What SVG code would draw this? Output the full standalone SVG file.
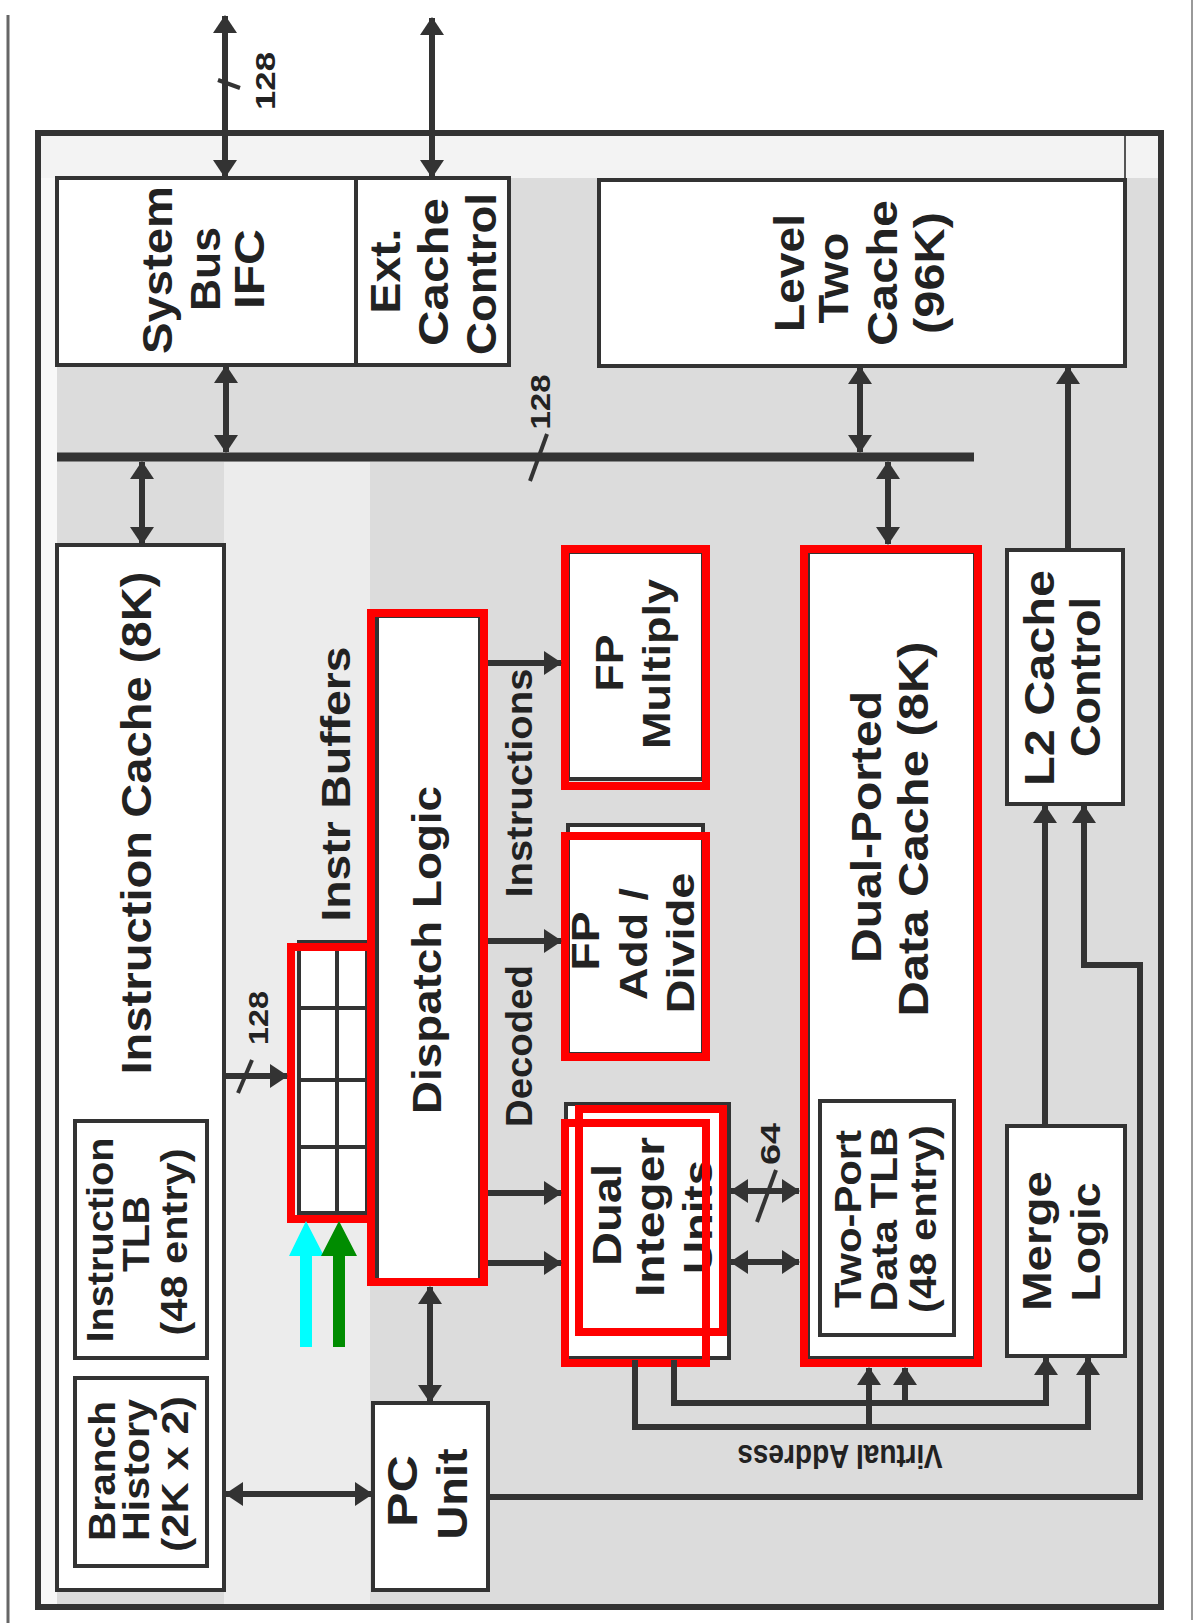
<svg xmlns="http://www.w3.org/2000/svg" width="1197" height="1623" viewBox="0 0 1197 1623">
<style>
.t{font-family:"Liberation Sans",Arial,sans-serif;font-weight:bold;fill:#222;text-anchor:middle}
.b{fill:#fff;stroke:#333;stroke-width:4}
.r{fill:none;stroke:#ff0000;stroke-width:8}
.w{fill:none;stroke:#333;stroke-width:6}
.s{fill:none;stroke:#333;stroke-width:4}
</style>
<defs>
<marker id="ah" viewBox="0 0 18 24" refX="17" refY="12" markerWidth="18" markerHeight="24" markerUnits="userSpaceOnUse" orient="auto-start-reverse" preserveAspectRatio="none"><path d="M0,0 L18,12 L0,24 z" fill="#333"/></marker>
</defs>
<rect width="1197" height="1623" fill="#fff"/>
<line x1="8" y1="15" x2="8" y2="1623" stroke="#666" stroke-width="3"/>
<line x1="1192" y1="0" x2="1192" y2="1620" stroke="#999" stroke-width="2"/>
<g id="frame">
<rect x="38" y="133" width="1123" height="1474" fill="#dcdcdc" stroke="#333" stroke-width="6"/>
<rect x="41" y="136" width="1117" height="42" fill="#f3f3f3"/>
<rect x="41" y="178" width="16" height="1426" fill="#f8f8f8"/>
<rect x="224" y="462" width="146" height="1142" fill="#ececec"/>
<line x1="1125" y1="136" x2="1125" y2="180" stroke="#555" stroke-width="2"/>
</g>
<g id="sysbus"><rect class="b" x="57" y="178" width="452" height="187"/>
<line x1="356" y1="178" x2="356" y2="365" stroke="#333" stroke-width="4"/>
<text class="t" font-size="43" textLength="168" lengthAdjust="spacingAndGlyphs" transform="translate(172,270) rotate(-90)">System</text>
<text class="t" font-size="43" textLength="84" lengthAdjust="spacingAndGlyphs" transform="translate(220,269) rotate(-90)">Bus</text>
<text class="t" font-size="43" textLength="80" lengthAdjust="spacingAndGlyphs" transform="translate(264,269) rotate(-90)">IFC</text>
</g>
<g id="extcache">
<text class="t" font-size="43" textLength="85" lengthAdjust="spacingAndGlyphs" transform="translate(400,271) rotate(-90)">Ext.</text>
<text class="t" font-size="43" textLength="148" lengthAdjust="spacingAndGlyphs" transform="translate(448,272) rotate(-90)">Cache</text>
<text class="t" font-size="43" textLength="162" lengthAdjust="spacingAndGlyphs" transform="translate(496,274) rotate(-90)">Control</text>
</g>
<g id="l2cache"><rect class="b" x="599" y="180" width="526" height="186"/>
<text class="t" font-size="43" textLength="118" lengthAdjust="spacingAndGlyphs" transform="translate(804,273) rotate(-90)">Level</text>
<text class="t" font-size="43" textLength="91" lengthAdjust="spacingAndGlyphs" transform="translate(848,278) rotate(-90)">Two</text>
<text class="t" font-size="43" textLength="146" lengthAdjust="spacingAndGlyphs" transform="translate(897,273) rotate(-90)">Cache</text>
<text class="t" font-size="43" textLength="122" lengthAdjust="spacingAndGlyphs" transform="translate(944,273) rotate(-90)">(96K)</text>
</g>
<g id="icache"><rect class="b" x="57" y="545" width="167" height="1045"/>
<text class="t" font-size="43" textLength="503" lengthAdjust="spacingAndGlyphs" transform="translate(151,823) rotate(-90)">Instruction Cache (8K)</text>
</g>
<g id="itlb"><rect class="b" x="75" y="1121" width="132" height="237"/>
<text class="t" font-size="37" textLength="205" lengthAdjust="spacingAndGlyphs" transform="translate(113,1240) rotate(-90)">Instruction</text>
<text class="t" font-size="37" textLength="76" lengthAdjust="spacingAndGlyphs" transform="translate(149,1234) rotate(-90)">TLB</text>
<text class="t" font-size="37" textLength="187" lengthAdjust="spacingAndGlyphs" transform="translate(187,1242) rotate(-90)">(48 entry)</text>
</g>
<g id="branch"><rect class="b" x="75" y="1378" width="132" height="188"/>
<text class="t" font-size="37" textLength="140" lengthAdjust="spacingAndGlyphs" transform="translate(115,1471) rotate(-90)">Branch</text>
<text class="t" font-size="37" textLength="142" lengthAdjust="spacingAndGlyphs" transform="translate(149,1470) rotate(-90)">History</text>
<text class="t" font-size="37" textLength="156" lengthAdjust="spacingAndGlyphs" transform="translate(188,1474) rotate(-90)">(2K x 2)</text>
</g>
<g id="buffers">
<rect class="b" x="299" y="942" width="68" height="271"/>
<path class="s" d="M337,942 V1213 M299,1008 H367 M299,1080 H367 M299,1147 H367" stroke-width="3"/>
<text class="t" font-size="40" textLength="275" lengthAdjust="spacingAndGlyphs" transform="translate(350,784) rotate(-90)">Instr Buffers</text>
<rect class="r" x="291" y="947" width="80" height="272"/>
</g>
<g id="dispatch"><rect class="b" x="377" y="616" width="103" height="664"/>
<text class="t" font-size="40" textLength="328" lengthAdjust="spacingAndGlyphs" transform="translate(441,950) rotate(-90)">Dispatch Logic</text>
<rect class="r" x="371" y="613" width="113" height="669"/>
</g>
<g id="decoded">
<text class="t" font-size="36" textLength="162" lengthAdjust="spacingAndGlyphs" transform="translate(532,1046) rotate(-90)">Decoded</text>
<text class="t" font-size="36" textLength="229" lengthAdjust="spacingAndGlyphs" transform="translate(532,783) rotate(-90)">Instructions</text>
</g>
<g id="fpmul"><rect class="b" x="568" y="552" width="135" height="227"/>
<text class="t" font-size="39" textLength="57" lengthAdjust="spacingAndGlyphs" transform="translate(623,663) rotate(-90)">FP</text>
<text class="t" font-size="39" textLength="170" lengthAdjust="spacingAndGlyphs" transform="translate(670,664) rotate(-90)">Multiply</text>
<rect class="r" x="565" y="549" width="141" height="237"/>
</g>
<g id="fpadd"><rect class="b" x="568" y="825" width="135" height="229"/>
<text class="t" font-size="39" textLength="59" lengthAdjust="spacingAndGlyphs" transform="translate(599,941) rotate(-90)">FP</text>
<text class="t" font-size="39" textLength="112" lengthAdjust="spacingAndGlyphs" transform="translate(647,944) rotate(-90)">Add /</text>
<text class="t" font-size="39" textLength="141" lengthAdjust="spacingAndGlyphs" transform="translate(694,943) rotate(-90)">Divide</text>
<rect class="r" x="565" y="836" width="141" height="221"/>
</g>
<g id="dualint"><rect class="b" x="566" y="1104" width="163" height="254"/>
<text class="t" font-size="40" textLength="102" lengthAdjust="spacingAndGlyphs" transform="translate(621,1215) rotate(-90)">Dual</text>
<text class="t" font-size="40" textLength="160" lengthAdjust="spacingAndGlyphs" transform="translate(664,1217) rotate(-90)">Integer</text>
<text class="t" font-size="40" textLength="114" lengthAdjust="spacingAndGlyphs" transform="translate(712,1217) rotate(-90)">Units</text>
<rect class="r" x="565" y="1123" width="141" height="240"/>
<rect class="r" x="579" y="1109" width="144" height="223"/>
</g>
<g id="dcache"><rect class="b" x="808" y="552" width="167" height="806"/>
<text class="t" font-size="42" textLength="272" lengthAdjust="spacingAndGlyphs" transform="translate(881,827) rotate(-90)">Dual-Ported</text>
<text class="t" font-size="42" textLength="375" lengthAdjust="spacingAndGlyphs" transform="translate(928,829) rotate(-90)">Data Cache (8K)</text>
</g>
<g id="dtlb"><rect class="b" x="820" y="1101" width="134" height="234"/>
<text class="t" font-size="37" textLength="178" lengthAdjust="spacingAndGlyphs" transform="translate(861,1219) rotate(-90)">Two-Port</text>
<text class="t" font-size="37" textLength="185" lengthAdjust="spacingAndGlyphs" transform="translate(897,1219) rotate(-90)">Data TLB</text>
<text class="t" font-size="37" textLength="188" lengthAdjust="spacingAndGlyphs" transform="translate(936,1219) rotate(-90)">(48 entry)</text>
<rect class="r" x="804" y="549" width="174" height="814"/>
</g>
<g id="l2ctrl"><rect class="b" x="1007" y="550" width="116" height="254"/>
<text class="t" font-size="42" textLength="216" lengthAdjust="spacingAndGlyphs" transform="translate(1054,678) rotate(-90)">L2 Cache</text>
<text class="t" font-size="42" textLength="160" lengthAdjust="spacingAndGlyphs" transform="translate(1100,677) rotate(-90)">Control</text>
</g>
<g id="merge"><rect class="b" x="1007" y="1126" width="118" height="230"/>
<text class="t" font-size="40" textLength="140" lengthAdjust="spacingAndGlyphs" transform="translate(1051,1241) rotate(-90)">Merge</text>
<text class="t" font-size="40" textLength="119" lengthAdjust="spacingAndGlyphs" transform="translate(1100,1242) rotate(-90)">Logic</text>
</g>
<g id="pcunit"><rect class="b" x="373" y="1403" width="115" height="187"/>
<text class="t" font-size="43" textLength="72" lengthAdjust="spacingAndGlyphs" transform="translate(417,1491) rotate(-90)">PC</text>
<text class="t" font-size="43" textLength="91" lengthAdjust="spacingAndGlyphs" transform="translate(467,1494) rotate(-90)">Unit</text>
</g>
<g id="connectors">
<line x1="57" y1="457" x2="974" y2="457" stroke="#333" stroke-width="9"/>
<path class="w" d="M225,16 V177" marker-start="url(#ah)" marker-end="url(#ah)"/>
<path class="w" d="M432,18 V177" marker-start="url(#ah)" marker-end="url(#ah)"/>
<path class="w" d="M226,366 V452" marker-start="url(#ah)" marker-end="url(#ah)"/>
<path class="w" d="M142,462 V544" marker-start="url(#ah)" marker-end="url(#ah)"/>
<path class="w" d="M860,367 V452" marker-start="url(#ah)" marker-end="url(#ah)"/>
<path class="w" d="M888,462 V544" marker-start="url(#ah)" marker-end="url(#ah)"/>
<path class="w" d="M1068,549 V367" marker-end="url(#ah)"/>
<path class="w" d="M224,1076 H287" marker-end="url(#ah)"/>
<path class="w" d="M488,663 H561" marker-end="url(#ah)"/>
<path class="w" d="M488,941 H561" marker-end="url(#ah)"/>
<path class="w" d="M488,1193 H561" marker-end="url(#ah)"/>
<path class="w" d="M488,1263 H561" marker-end="url(#ah)"/>
<path class="w" d="M430,1287 V1402" marker-start="url(#ah)" marker-end="url(#ah)"/>
<path class="w" d="M226,1494 H372" marker-start="url(#ah)" marker-end="url(#ah)"/>
<path class="w" d="M731,1191 H799" marker-start="url(#ah)" marker-end="url(#ah)"/>
<path class="w" d="M731,1262 H799" marker-start="url(#ah)" marker-end="url(#ah)"/>
<path class="w" d="M635,1360 V1427 H1088 V1358" marker-end="url(#ah)"/>
<path class="w" d="M674,1360 V1403 H1046 V1358" marker-end="url(#ah)"/>
<path class="w" d="M869,1427 V1368" marker-end="url(#ah)"/>
<path class="w" d="M905,1403 V1368" marker-end="url(#ah)"/>
<path class="w" d="M1045,1126 V806" marker-end="url(#ah)"/>
<path class="w" d="M488,1497 H1140 V965 H1084 V806" marker-end="url(#ah)"/>
<path class="s" d="M218,80 L240,88" stroke-width="3"/>
<path class="s" d="M530,481 L547,434"/>
<path class="s" d="M238,1093 L252,1060"/>
<path class="s" d="M757,1222 L776,1170"/>
</g>
<g id="labels">
<text class="t" font-size="28" textLength="58" lengthAdjust="spacingAndGlyphs" transform="translate(275,81) rotate(-90)">128</text>
<text class="t" font-size="28" textLength="55" lengthAdjust="spacingAndGlyphs" transform="translate(550,402) rotate(-90)">128</text>
<text class="t" font-size="28" textLength="54" lengthAdjust="spacingAndGlyphs" transform="translate(268,1018) rotate(-90)">128</text>
<text class="t" font-size="28" textLength="42" lengthAdjust="spacingAndGlyphs" transform="translate(780,1144) rotate(-90)">64</text>
<text class="t" font-size="34" textLength="205" lengthAdjust="spacingAndGlyphs" transform="translate(840,1445) rotate(180)">Virtual Address</text>
</g>
<g id="markers">
<path d="M300,1347 V1256 H289 L306,1221 L324,1256 H312 V1347 Z" fill="#00ffff"/>
<path d="M333,1347 V1256 H321 L339,1221 L357,1256 H345 V1347 Z" fill="#008c00"/>
</g>
</svg>
